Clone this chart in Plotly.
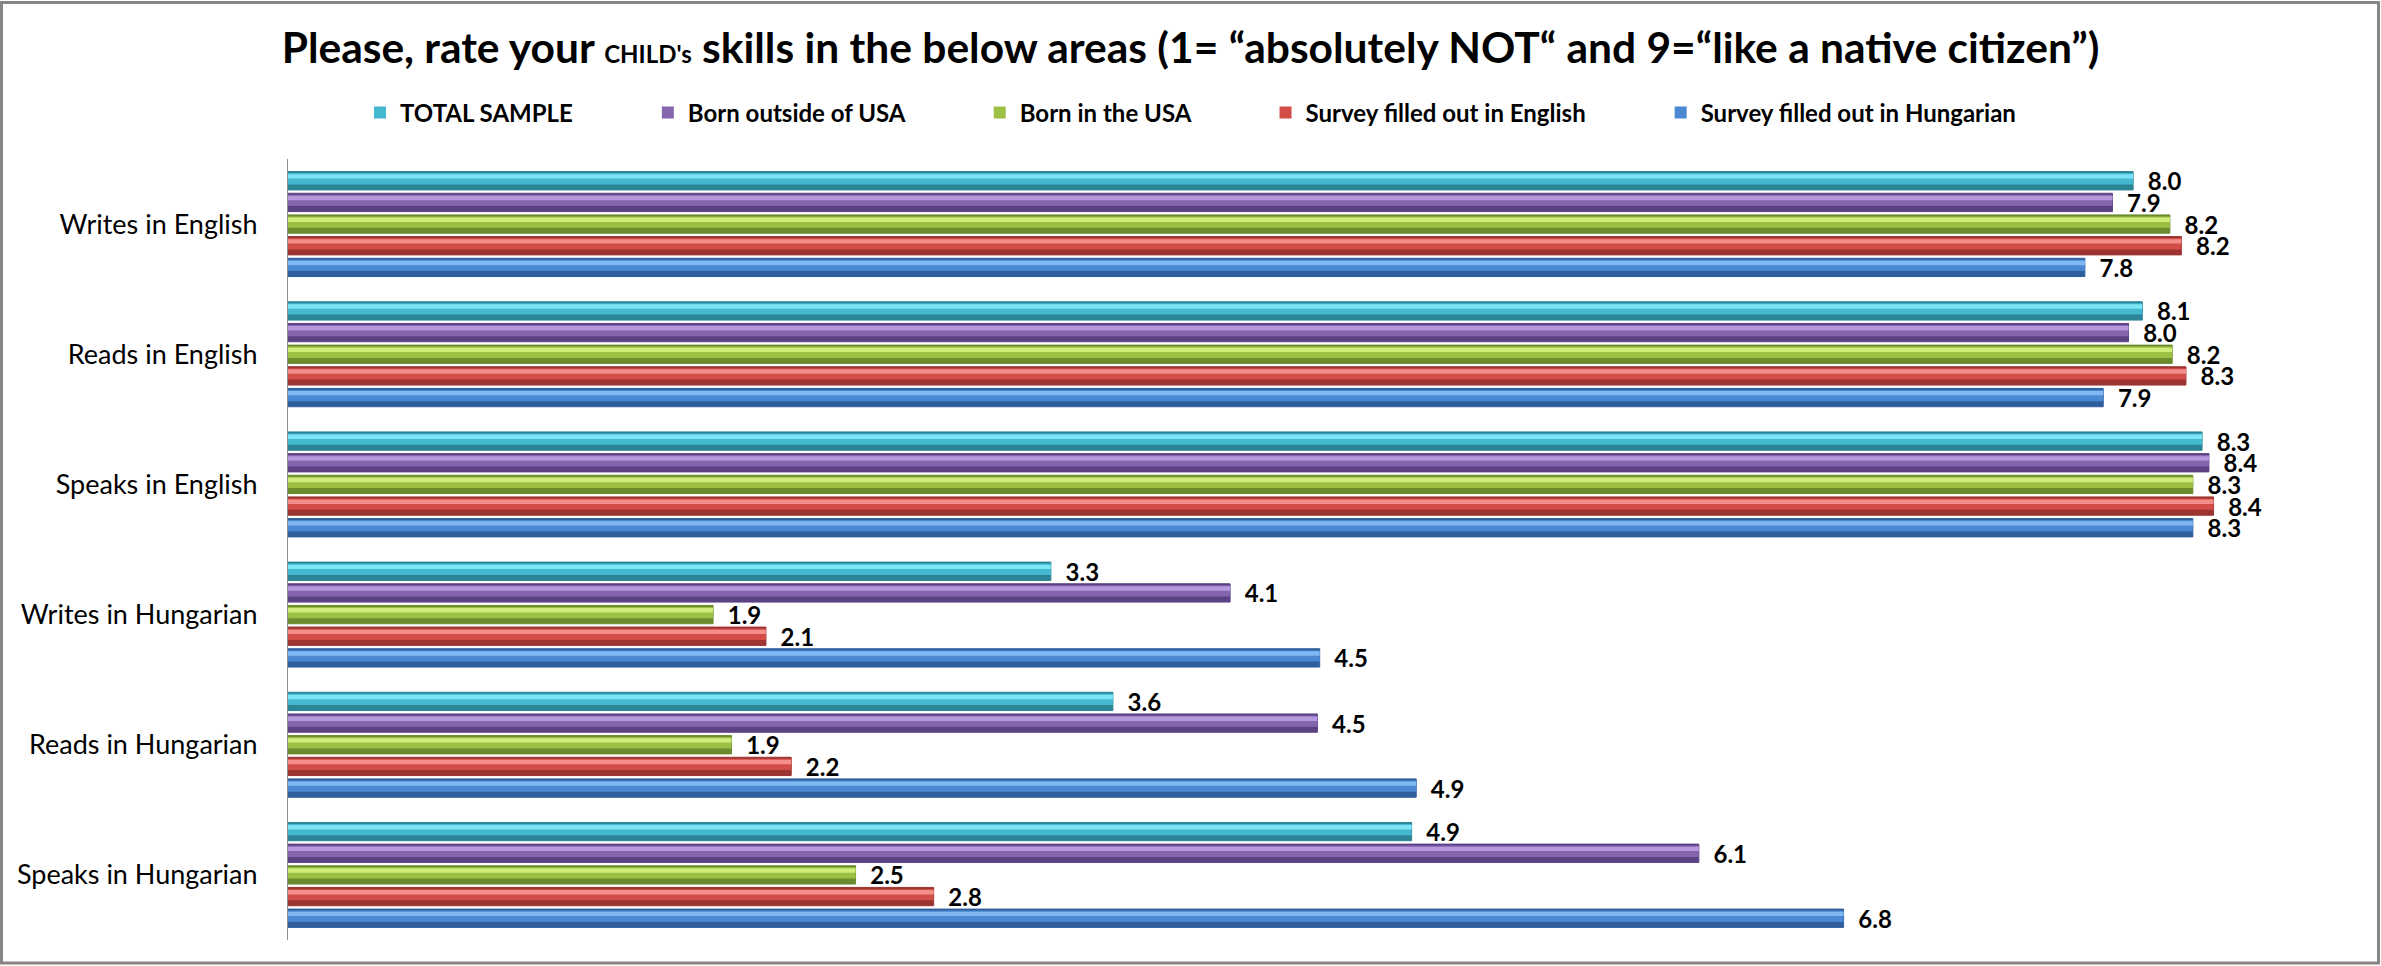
import plotly.graph_objects as go

categories = ["Writes in English", "Reads in English", "Speaks in English",
              "Writes in Hungarian", "Reads in Hungarian", "Speaks in Hungarian"]
series_names = ["TOTAL SAMPLE", "Born outside of USA", "Born in the USA",
                "Survey filled out in English", "Survey filled out in Hungarian"]
total_sample = [8.03, 8.07, 8.33, 3.32, 3.59, 4.89]
born_outside = [7.94, 8.01, 8.36, 4.10, 4.48, 6.14]
born_usa = [8.19, 8.20, 8.29, 1.85, 1.93, 2.47]
survey_english = [8.24, 8.26, 8.38, 2.08, 2.19, 2.81]
survey_hungarian = [7.82, 7.90, 8.29, 4.49, 4.91, 6.77]
series_values = [total_sample, born_outside, born_usa, survey_english, survey_hungarian]

dark_colors = ["#2B8597", "#5B4283", "#6B8B2E", "#9C3431", "#2F5E9C"]
mid_colors = ["#44B8CE", "#8465AE", "#9CC044", "#D24C48", "#4A88D2"]
light_colors = ["#7DE4F6", "#B698DF", "#CFEC7A", "#F38E8A", "#80B8F3"]

W, H = 2381, 966
ML, MT, MB = 288, 159, 26
PW = 2068
MR = W - ML - PW
ph = H - MT - MB

slot = 0.1664
thick = 0.1406
n = len(series_names)

fig = go.Figure()
for i, (name, vals) in enumerate(zip(series_names, series_values)):
    off = -n * slot / 2 + i * slot + (slot - thick) / 2
    # base (dark) bar with labels
    fig.add_trace(go.Bar(
        y=categories, x=vals, name=name, orientation="h", legendgroup=name,
        showlegend=False, offset=off, width=thick,
        marker=dict(color=dark_colors[i], line=dict(color=dark_colors[i], width=1)),
        text=[f"\u00a0\u00a0{v:.1f}" for v in vals],
        textposition="outside", constraintext="none", cliponaxis=False,
        textfont=dict(family="Lato", size=24, color="#000000", weight="bold"),
        hoverinfo="skip",
    ))
    # mid band (legend entry)
    fig.add_trace(go.Bar(
        y=categories, x=vals, name=name, orientation="h", legendgroup=name,
        showlegend=True, offset=off + thick * 0.08, width=thick * 0.62,
        marker=dict(color=mid_colors[i], line=dict(width=0)),
    ))
    # light highlight band
    fig.add_trace(go.Bar(
        y=categories, x=vals, name=name, orientation="h", legendgroup=name,
        showlegend=False, offset=off + thick * 0.14, width=thick * 0.24,
        marker=dict(color=light_colors[i], line=dict(width=0)),
        hoverinfo="skip",
    ))

px2x = lambda p: (p - ML) / PW
py2y = lambda p: (H - MB - p) / ph

pad = "\u00a0" * 12
fig.for_each_trace(lambda t: t.update(name=t.name + pad) if t.showlegend and t.name != series_names[-1] else None)

fig.update_layout(
    width=W, height=H,
    margin=dict(l=ML, r=MR, t=MT, b=MB),
    paper_bgcolor="white", plot_bgcolor="white",
    barmode="overlay",
    title=dict(
        text='Please, rate your <span style="font-size:24px">CHILD\'s</span> skills in the below areas (1= \u201cabsolutely NOT\u201c and 9=\u201clike a native citizen\u201d)',
        font=dict(family="Lato", size=42.5, color="#000000", weight="bold"),
        x=0.5, xref="container", xanchor="center",
        y=1 - 48 / H, yref="container", yanchor="middle",
    ),
    legend=dict(
        orientation="h", xref="container", yref="container",
        x=0.5, xanchor="center", y=1 - 113 / H, yanchor="middle",
        font=dict(family="Lato", size=24, color="#000000", weight="bold"),
        traceorder="normal", itemwidth=30,
    ),
    font=dict(family="Lato"),
    xaxis=dict(range=[0, 9], visible=False, showgrid=False, zeroline=False),
    yaxis=dict(autorange="reversed", showline=True, linecolor="#8C8C8C", linewidth=1,
               showgrid=False, ticks="", ticklabelstandoff=24,
               tickfont=dict(family="Lato", size=27, color="#000000")),
    shapes=[dict(type="rect", xref="paper", yref="paper",
                 x0=px2x(1.5), x1=px2x(2378.5), y0=py2y(963), y1=py2y(2.5),
                 line=dict(color="#868686", width=3), fillcolor="rgba(0,0,0,0)", layer="above")],
)
fig.write_html("out.html")
